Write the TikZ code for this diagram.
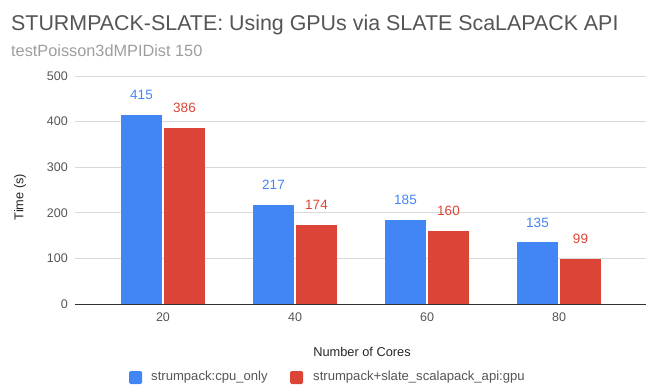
\documentclass[tikz,border=0pt]{standalone}
\usepackage{fontspec}
\setmainfont{Liberation Sans}
\definecolor{cpublue}{HTML}{4285F4}
\definecolor{gpured}{HTML}{DB4437}
\definecolor{gridgray}{HTML}{D9D9D9}
\definecolor{axisgray}{HTML}{333333}
\definecolor{titlegray}{HTML}{555555}
\definecolor{subgray}{HTML}{9E9E9E}
\definecolor{tickgray}{HTML}{555555}
\tikzset{
  gridline/.style={draw=gridgray, line width=0.9pt},
  axisline/.style={draw=axisgray, line width=1pt},
  ticklabel/.style={text=tickgray, font=\fontsize{12.5}{14}\selectfont, inner sep=2pt},
  vallabel/.style={font=\fontsize{13.5}{15}\selectfont, inner sep=0pt},
  axistitle/.style={text=black!85, font=\fontsize{12.8}{15}\selectfont},
  legtext/.style={text=tickgray, font=\fontsize{13.1}{15}\selectfont, anchor=west, inner sep=0pt},
  legkey/.style={minimum size=13pt, inner sep=0pt, rounded corners=1.5pt},
}
\begin{document}
\begin{tikzpicture}[x=1pt,y=-1pt]
  \useasboundingbox (0,0) rectangle (646,385);
  % titles
  \node[anchor=west, inner sep=0pt, text=titlegray, font=\fontsize{21.4}{24}\selectfont]
    (title) at (11,25) {STURMPACK-SLATE: Using GPUs via SLATE ScaLAPACK API};
  \node[anchor=west, inner sep=0pt, text=subgray, font=\fontsize{16.3}{18}\selectfont]
    (subtitle) at (11,51) {testPoisson3dMPIDist 150};
  % plot area, value units upwards
  \begin{scope}[shift={(0,304)}, y=0.456pt]
    \foreach \v in {100,200,...,500} {
      \draw[gridline] (75,\v) -- (646,\v);
    }
    \foreach \v in {0,100,...,500} {
      \node[ticklabel, anchor=east] (ytick\v) at (70,\v) {\v};
    }
    \foreach \c/\a/\b [count=\i] in {20/415/386, 40/217/174, 60/185/160, 80/135/99} {
      \pgfmathsetmacro\xc{31+132*\i}
      \fill[cpublue] (\xc-42,0) rectangle (\xc-1,\a);
      \fill[gpured] (\xc+1,0) rectangle (\xc+42,\b);
      \node[vallabel, text=cpublue] (cpu\c) at (\xc-21.5,\a) [yshift=20pt] {\a};
      \node[vallabel, text=gpured] (gpu\c) at (\xc+21.5,\b) [yshift=20pt] {\b};
      \node[ticklabel] (xtick\c) at (\xc,0) [yshift=-13pt] {\c};
    }
    \draw[axisline] (75,0) -- (646,0);
  \end{scope}
  % axis titles
  \node[axistitle, rotate=90] (ytitle) at (20,197) {Time (s)};
  \node[axistitle] (xtitle) at (362,352) {Number of Cores};
  % legend
  \node[legkey, fill=cpublue] (keycpu) at (135.5,377.5) {};
  \node[legtext] (labcpu) at (151,377.5) {strumpack:cpu\_only};
  \node[legkey, fill=gpured] (keygpu) at (296.5,377.5) {};
  \node[legtext] (labgpu) at (313,377.5) {strumpack+slate\_scalapack\_api:gpu};
\end{tikzpicture}
\end{document}
